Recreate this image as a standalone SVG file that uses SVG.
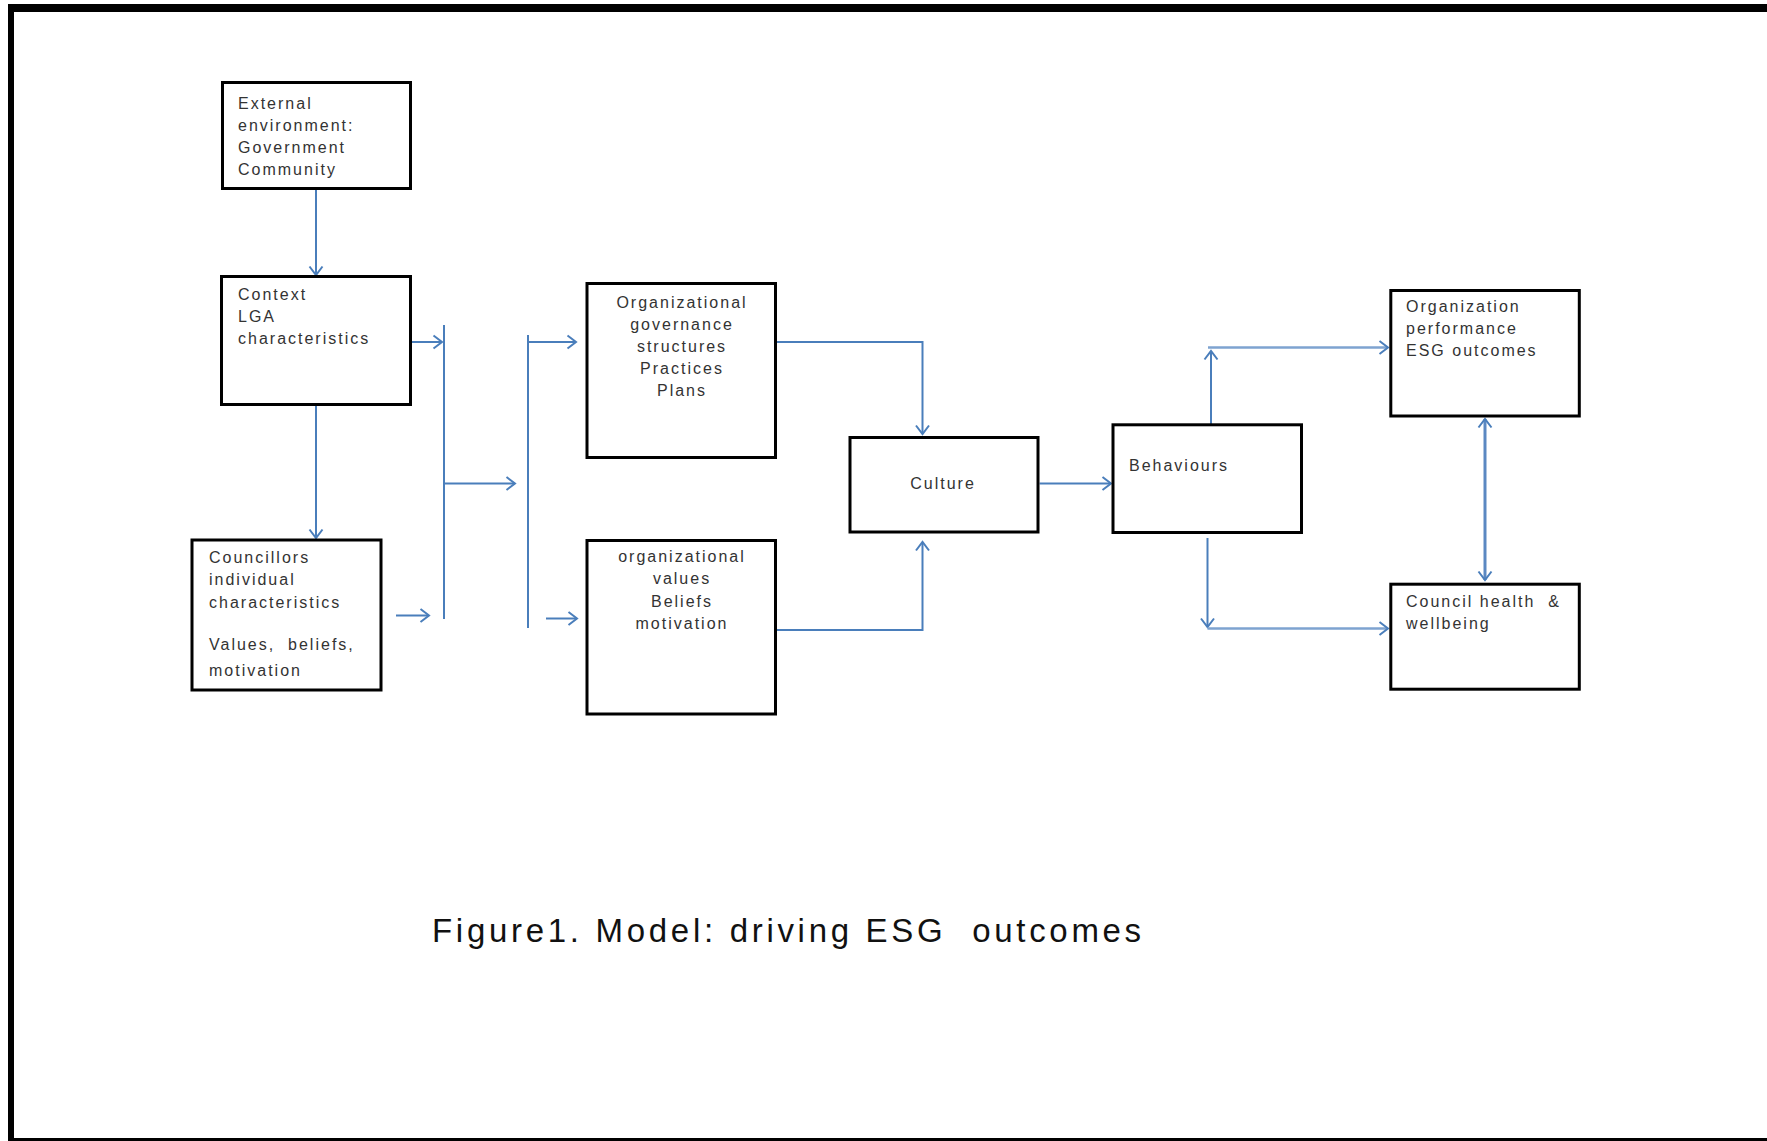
<svg xmlns="http://www.w3.org/2000/svg" width="1767" height="1141" viewBox="0 0 1767 1141">
<style>
.box{fill:#fff;stroke:#000;stroke-width:3}
.t{font-family:"Liberation Sans",Arial,sans-serif;font-size:16px;letter-spacing:2px;fill:#333}
.c{text-anchor:middle}
.cap{font-family:"Liberation Sans",Arial,sans-serif;font-size:33px;letter-spacing:3.7px;fill:#111}
.ln{fill:none;stroke:#4a7ebb;stroke-width:2}
.lt{fill:none;stroke:#7ea3d0;stroke-width:2.5}
.dbl{fill:none;stroke:#5b88c2;stroke-width:3}
</style>
<defs>
<marker id="ah" markerUnits="userSpaceOnUse" markerWidth="20" markerHeight="20" viewBox="0 0 20 20" refX="10" refY="10" orient="auto-start-reverse">
<path d="M1.5,3.5 L10,10 L1.5,16.5" fill="none" stroke="#4a7ebb" stroke-width="2"/>
</marker>
</defs>
<rect width="1767" height="1141" fill="#fff"/>
<g id="frame">
<rect x="8" y="4" width="1759" height="8" fill="#000"/>
<rect x="8" y="4" width="6" height="1137" fill="#000"/>
<rect x="8" y="1138" width="1759" height="3" fill="#000"/>
</g>
<g id="connectors">
<path class="ln" d="M316,190 V275" marker-end="url(#ah)"/>
<path class="ln" d="M316,406 V538" marker-end="url(#ah)"/>
<path class="ln" d="M411,342 H442" marker-end="url(#ah)"/>
<path class="ln" d="M444,325 V619"/>
<path class="ln" d="M396,615.5 H429" marker-end="url(#ah)"/>
<path class="ln" d="M444,483.5 H515" marker-end="url(#ah)"/>
<path class="ln" d="M528,335 V628"/>
<path class="ln" d="M528,342 H576" marker-end="url(#ah)"/>
<path class="ln" d="M546,618.5 H577" marker-end="url(#ah)"/>
<path class="ln" d="M777,342 H922.5 V434" marker-end="url(#ah)"/>
<path class="ln" d="M777,630 H922.5 V542" marker-end="url(#ah)"/>
<path class="ln" d="M1039.6,483.5 H1111" marker-end="url(#ah)"/>
<path class="ln" d="M1211,436 V351" marker-end="url(#ah)"/>
<path class="lt" d="M1208,347.5 H1388" marker-end="url(#ah)"/>
<path class="ln" d="M1207.5,538 V627" marker-end="url(#ah)"/>
<path class="lt" d="M1207.5,628.5 H1388" marker-end="url(#ah)"/>
<path class="dbl" d="M1485,419 V580" marker-start="url(#ah)" marker-end="url(#ah)"/>
</g>
<g id="n-external">
<rect class="box" x="222.5" y="82.5" width="188" height="106"/>
<text class="t"><tspan x="238" y="109">External</tspan><tspan x="238" y="131">environment:</tspan><tspan x="238" y="153">Government</tspan><tspan x="238" y="175">Community</tspan></text>
</g>
<g id="n-context">
<rect class="box" x="221.5" y="276.5" width="189" height="128"/>
<text class="t"><tspan x="238" y="299.5">Context</tspan><tspan x="238" y="321.5">LGA</tspan><tspan x="238" y="343.5">characteristics</tspan></text>
</g>
<g id="n-councillors">
<rect class="box" x="192" y="540" width="189" height="150"/>
<text class="t" xml:space="preserve"><tspan x="209" y="563">Councillors</tspan><tspan x="209" y="585">individual</tspan><tspan x="209" y="607.5">characteristics</tspan><tspan x="209" y="650">Values,  beliefs,</tspan><tspan x="209" y="676">motivation</tspan></text>
</g>
<g id="n-governance">
<rect class="box" x="587" y="283.5" width="188.5" height="174"/>
<text class="t c"><tspan x="682" y="308">Organizational</tspan><tspan x="682" y="330">governance</tspan><tspan x="682" y="352">structures</tspan><tspan x="682" y="374">Practices</tspan><tspan x="682" y="396">Plans</tspan></text>
</g>
<g id="n-values">
<rect class="box" x="587" y="540.5" width="188.5" height="173.5"/>
<text class="t c"><tspan x="682" y="562">organizational</tspan><tspan x="682" y="584">values</tspan><tspan x="682" y="606.5">Beliefs</tspan><tspan x="682" y="629">motivation</tspan></text>
</g>
<g id="n-culture">
<rect class="box" x="850" y="437.5" width="188" height="94.5"/>
<text class="t c" x="943" y="489">Culture</text>
</g>
<g id="n-behaviours">
<rect class="box" x="1113" y="424.8" width="188.5" height="107.7"/>
<text class="t" x="1129" y="471">Behaviours</text>
</g>
<g id="n-performance">
<rect class="box" x="1390.8" y="290.5" width="188.5" height="125.5"/>
<text class="t"><tspan x="1406" y="311.5">Organization</tspan><tspan x="1406" y="333.5">performance</tspan><tspan x="1406" y="355.5">ESG outcomes</tspan></text>
</g>
<g id="n-wellbeing">
<rect class="box" x="1390.8" y="584.2" width="188.5" height="105"/>
<text class="t" xml:space="preserve"><tspan x="1406" y="606.5">Council health  &amp;</tspan><tspan x="1406" y="628.5">wellbeing</tspan></text>
</g>
<g id="caption">
<text class="cap" x="432" y="942" xml:space="preserve">Figure1. Model: driving ESG  outcomes</text>
</g>
</svg>
